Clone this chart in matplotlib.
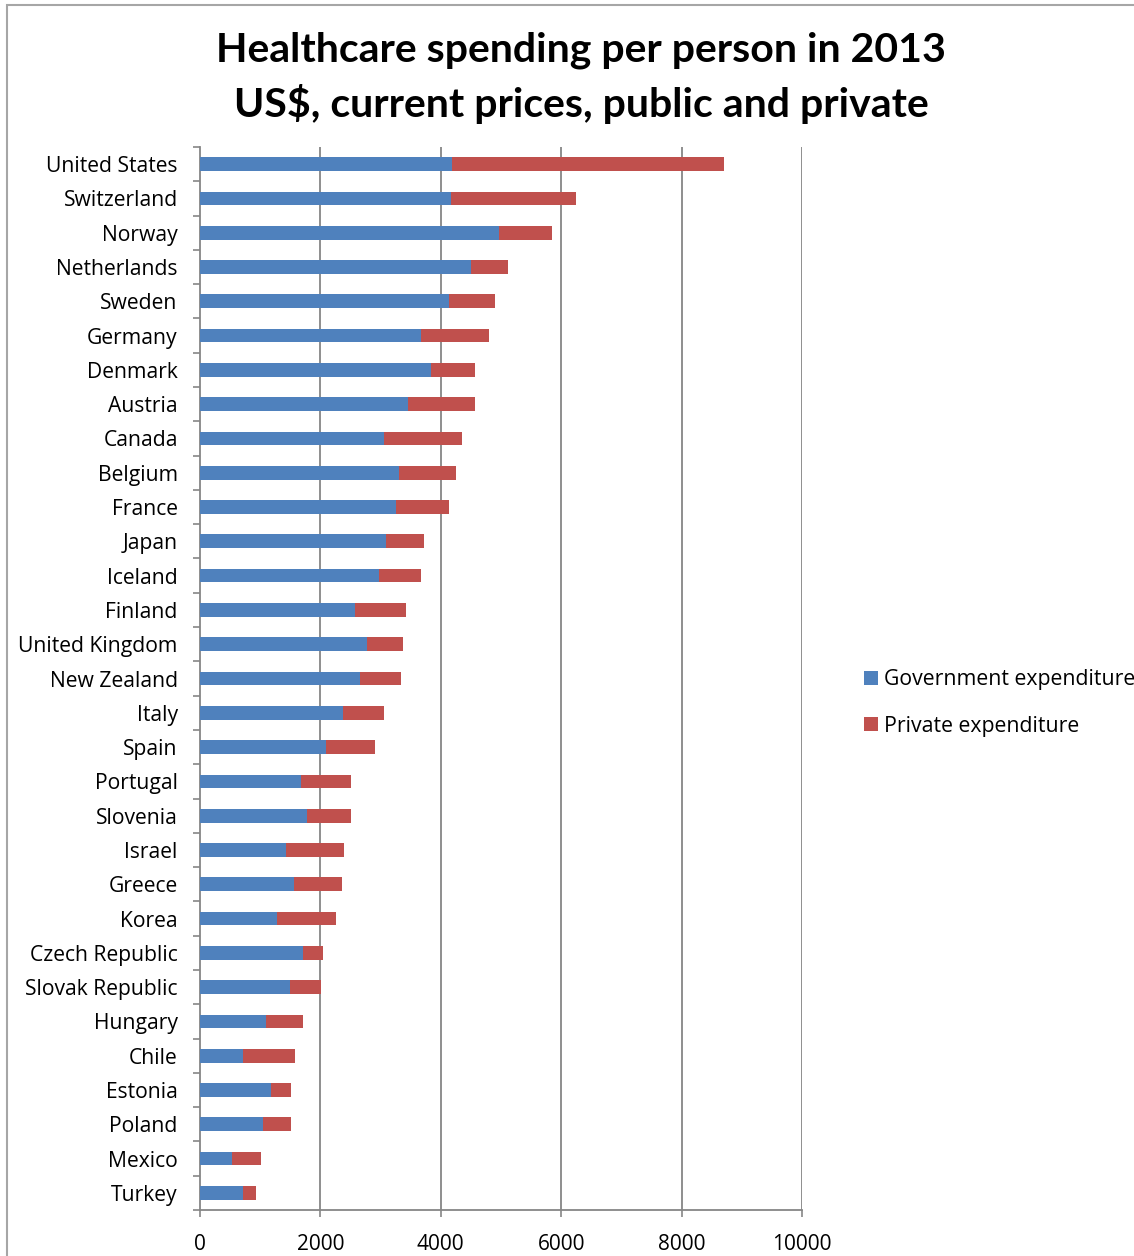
import numpy as np
import matplotlib
matplotlib.use('Agg')
import matplotlib.pyplot as plt
from matplotlib.patches import Rectangle
from matplotlib.ticker import FixedLocator

countries = ['United States', 'Switzerland', 'Norway', 'Netherlands', 'Sweden',
             'Germany', 'Denmark', 'Austria', 'Canada', 'Belgium', 'France',
             'Japan', 'Iceland', 'Finland', 'United Kingdom', 'New Zealand',
             'Italy', 'Spain', 'Portugal', 'Slovenia', 'Israel', 'Greece',
             'Korea', 'Czech Republic', 'Slovak Republic', 'Hungary', 'Chile',
             'Estonia', 'Poland', 'Mexico', 'Turkey']
government = [4185, 4165, 4960, 4505, 4130, 3675, 3830, 3450, 3060, 3310, 3250,
              3095, 2970, 2570, 2780, 2660, 2380, 2085, 1680, 1775, 1430, 1555,
              1280, 1710, 1490, 1090, 715, 1185, 1050, 530, 715]
private = [4520, 2085, 890, 605, 765, 1125, 730, 1110, 1295, 950, 890,
           620, 705, 860, 585, 680, 680, 830, 835, 740, 955, 800,
           985, 340, 520, 615, 865, 330, 465, 490, 210]
x_ticks = [0, 2000, 4000, 6000, 8000, 10000]

blue = '#4F81BD'
red = '#C0504D'
grid_col = '#868686'

fig = plt.figure(figsize=(11.34, 12.56), dpi=100)
ax = fig.add_axes([200 / 1134, 1 - 1210 / 1256, 602 / 1134, (1210 - 147) / 1256])

y = np.arange(len(countries))
ax.barh(y, government, height=0.4, color=blue, label='Government expenditure', zorder=3)
ax.barh(y, private, left=government, height=0.4, color=red, label='Private expenditure', zorder=3)

ax.set_xlim(0, 10000)
ax.set_ylim(len(countries) - 0.5, -0.5)
ax.set_xticks(x_ticks)
ax.set_xticklabels([str(t) for t in x_ticks], fontsize=15, family='Open Sans')
ax.set_yticks(y)
ax.set_yticklabels(countries, fontsize=15.2, family='Open Sans')
ax.yaxis.set_minor_locator(FixedLocator(np.arange(-0.5, len(countries), 1)))

ax.tick_params(axis='y', which='major', length=0, pad=16)
ax.tick_params(axis='y', which='minor', length=5, width=1.2, color=grid_col)
ax.tick_params(axis='x', which='major', length=5, width=1.2, color=grid_col, pad=12)

for t in x_ticks[1:]:
    ax.axvline(t, color=grid_col, linewidth=1.3, zorder=1)

for side in ['top', 'right']:
    ax.spines[side].set_visible(False)
for side in ['left', 'bottom']:
    ax.spines[side].set_color(grid_col)
    ax.spines[side].set_linewidth(1.3)

fig.text(581 / 1134, 1 - 50 / 1256, 'Healthcare spending per person in 2013',
         ha='center', va='center', fontsize=29.5, fontweight='bold', family='Lato')
fig.text(581 / 1134, 1 - 104 / 1256, 'US$, current prices, public and private',
         ha='center', va='center', fontsize=29.5, fontweight='bold', family='Lato')

leg = fig.legend(loc='center left', bbox_to_anchor=(845 / 1134, 1 - 703 / 1256),
                 frameon=False, prop={'family': 'Open Sans', 'size': 15.3},
                 handlelength=0.65, handleheight=0.65, handletextpad=0.3,
                 labelspacing=1.2)

# outer chart border
fig.patches.append(Rectangle((7 / 1134, -0.1), 1.2, 1 - 5 / 1256 + 0.1,
                             transform=fig.transFigure, fill=False,
                             edgecolor='#A6A6A6', linewidth=1.5))

fig.savefig('out.png', dpi=100)
